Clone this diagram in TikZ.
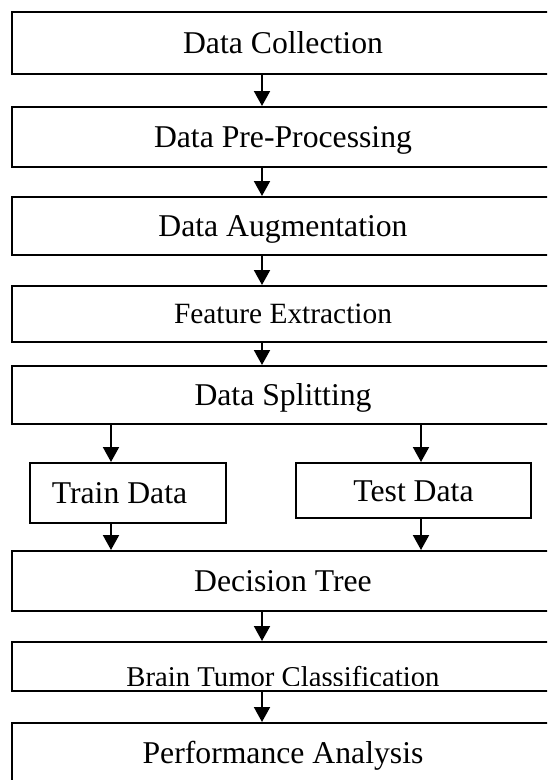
\documentclass[tikz,border=0pt]{standalone}
\usepackage{fontspec}
\setmainfont{Liberation Serif}
\usetikzlibrary{arrows.meta}
\begin{document}
\begin{tikzpicture}[x=1pt,y=-1pt,
  box/.style={draw=black, line width=2pt, rectangle, inner sep=0pt,
    font=\fontsize{31.7}{38}\selectfont, text height=21pt, text depth=0pt},
  lbl/.style={inner sep=0pt, text height=20pt, text depth=0pt},
  arr/.style={line width=2pt, -{Triangle[length=15pt,width=16pt]}}]
\useasboundingbox (0,0) rectangle (547,780);
\clip (0,0) rectangle (547,780);
\coordinate (ax) at (262,0);
\coordinate (lx) at (111,0);
\coordinate (rx) at (421,0);
\node[box, minimum width=542pt, minimum height=62pt] (dc) at (283,43) {Data Collection};
\node[box, minimum width=542pt, minimum height=60pt] (pp) at (283,137) {Data Pre-Processing};
\node[box, minimum width=542pt, minimum height=58pt] (da) at (283,226) {Data Augmentation};
\node[box, minimum width=542pt, minimum height=56pt, font=\fontsize{29.4}{35}\selectfont, text height=19.5pt] (fe) at (283,314) {Feature Extraction};
\node[box, minimum width=542pt, minimum height=58pt] (ds) at (283,395) {Data Splitting};
\node[box, minimum width=196pt, minimum height=60pt] (train) at (128,493) {Train Data\hspace*{17pt}};
\node[box, minimum width=235pt, minimum height=55pt] (test) at (413.5,490.5) {Test Data};
\node[box, minimum width=542pt, minimum height=60pt] (dt) at (283,581) {Decision Tree};
\node[box, minimum width=542pt, minimum height=49pt] (bt) at (283,666.5) {};
\begin{scope}
\clip (0,0) rectangle (547,685.5);
\node[lbl, font=\fontsize{28.7}{34}\selectfont, anchor=base] (btt) at (283,686.5) {Brain Tumor Classification};
\end{scope}
\node[box, minimum width=542pt, minimum height=60pt] (pa) at (283,753) {Performance Analysis};
\draw[arr] (dc.south -| ax) -- (pp.north -| ax);
\draw[arr] (pp.south -| ax) -- (da.north -| ax);
\draw[arr] (da.south -| ax) -- (fe.north -| ax);
\draw[arr] (fe.south -| ax) -- (ds.north -| ax);
\draw[arr] (ds.south -| lx) -- (train.north -| lx);
\draw[arr] (ds.south -| rx) -- (test.north -| rx);
\draw[arr] (train.south -| lx) -- (dt.north -| lx);
\draw[arr] (test.south -| rx) -- (dt.north -| rx);
\draw[arr] (dt.south -| ax) -- (bt.north -| ax);
\draw[arr] (bt.south -| ax) -- (pa.north -| ax);
\end{tikzpicture}
\end{document}
